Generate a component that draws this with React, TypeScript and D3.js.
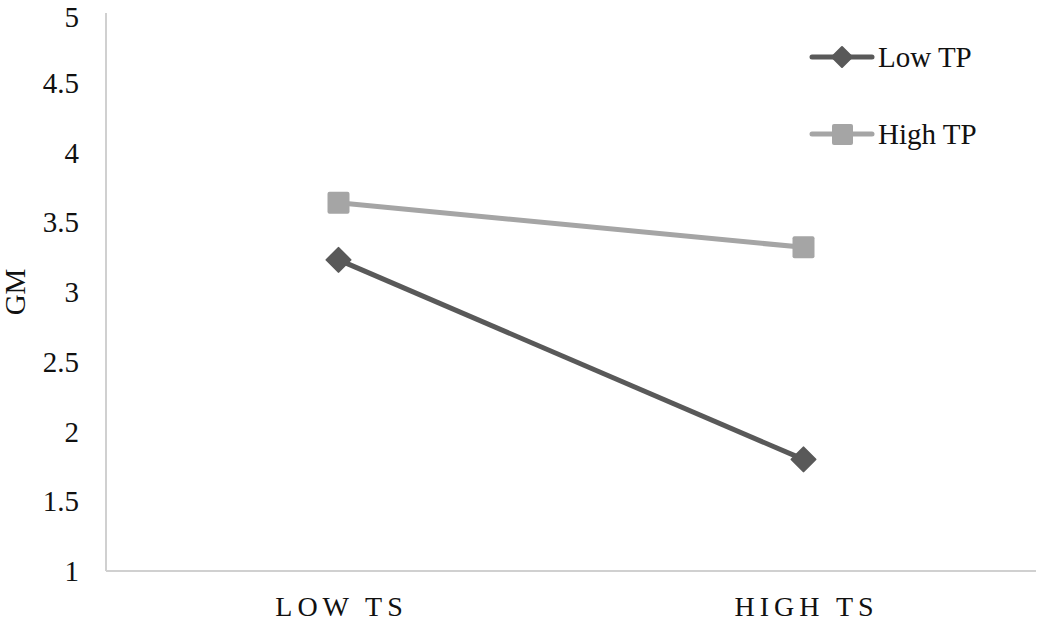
import React from 'react';
import * as d3 from 'd3';

const categories = ['LOW TS', 'HIGH TS'];
const lowTP = [3.23, 1.8];
const highTP = [3.64, 3.32];
const yTicks = [1, 1.5, 2, 2.5, 3, 3.5, 4, 4.5, 5];

const W = 1039;
const H = 622;
const FONT = "'Liberation Serif', 'Times New Roman', 'DejaVu Serif', serif";

const App = () => {
  const left = 106;
  const right = 1036;
  const top = 13;
  const bottom = 571;

  const x = d3.scaleBand().domain(categories).range([left, right]);
  const y = d3.scaleLinear().domain([1, 5]).range([bottom, top]);
  const cx = (c: string) => (x(c) as number) + x.bandwidth() / 2;

  const line = d3.line<number>()
    .x((_, i) => cx(categories[i]))
    .y(d => y(d));

  const diamond = (px: number, py: number, r = 11) =>
    `M${px},${py - r}L${px + r},${py}L${px},${py + r}L${px - r},${py}Z`;

  const lowColor = '#595959';
  const highColor = '#a5a5a5';
  const txt = { fontFamily: FONT, fill: '#111' };

  return (
    <svg width={W} height={H} style={{ position: 'absolute', left: 0, top: 0, background: '#fff' }}>
      {/* axes */}
      <line x1={left} x2={left} y1={top} y2={bottom} stroke="#d0d0d0" strokeWidth={2} />
      <line x1={left} x2={right} y1={bottom} y2={bottom} stroke="#d0d0d0" strokeWidth={2} />

      {yTicks.map(t => (
        <text key={t} x={79} y={Math.max(y(t) + 10, 27)} textAnchor="end"
          style={{ ...txt, fontSize: 29 }}>{t}</text>
      ))}

      {categories.map(c => (
        <text key={c} x={cx(c) + 3} y={616} textAnchor="middle"
          style={{ ...txt, fontSize: 28, letterSpacing: 5 }}>{c}</text>
      ))}

      <text transform={`translate(25,292) rotate(-90)`} textAnchor="middle"
        style={{ ...txt, fontSize: 29 }}>GM</text>

      {/* series */}
      <path d={line(highTP) || ''} fill="none" stroke={highColor} strokeWidth={5} />
      {highTP.map((v, i) => (
        <rect key={i} x={cx(categories[i]) - 11} y={y(v) - 11} width={22} height={22}
          rx={2} fill={highColor} />
      ))}
      <path d={line(lowTP) || ''} fill="none" stroke={lowColor} strokeWidth={5} />
      {lowTP.map((v, i) => (
        <path key={i} d={diamond(cx(categories[i]), y(v), 12)} fill={lowColor}
          stroke={lowColor} strokeWidth={2} strokeLinejoin="round" />
      ))}

      {/* legend */}
      <g>
        <line x1={812} x2={872} y1={57} y2={57} stroke={lowColor} strokeWidth={5} strokeLinecap="round" />
        <path d={diamond(842, 57, 10)} fill={lowColor} stroke={lowColor} strokeWidth={2} strokeLinejoin="round" />
        <text x={878} y={67} style={{ ...txt, fontSize: 29 }}>Low TP</text>

        <line x1={812} x2={872} y1={134} y2={134} stroke={highColor} strokeWidth={5} strokeLinecap="round" />
        <rect x={832} y={124} width={21} height={21} rx={2} fill={highColor} />
        <text x={878} y={144} style={{ ...txt, fontSize: 29 }}>High TP</text>
      </g>
    </svg>
  );
};

export default App;
